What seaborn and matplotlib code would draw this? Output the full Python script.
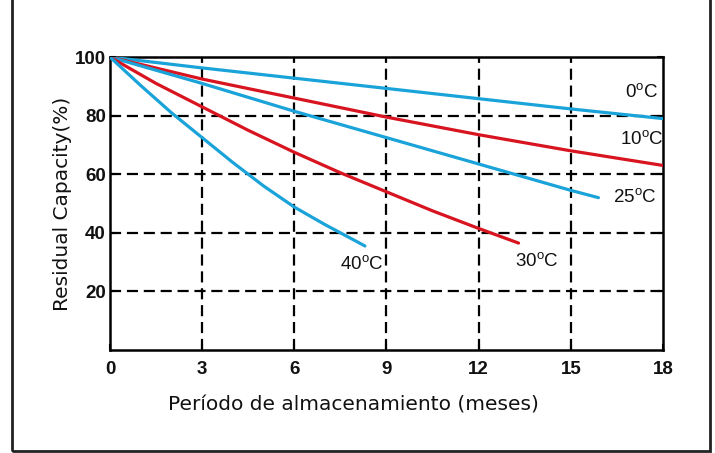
import numpy as np
import pandas as pd
import matplotlib
matplotlib.use('Agg')
import matplotlib.pyplot as plt
import seaborn as sns
from matplotlib.patches import Rectangle

# %%
# Data (months, residual capacity %)
months_0c = [0, 3, 6, 9, 12, 15, 18]
cap_0c = [100, 96.3, 92.8, 89.3, 85.8, 82.3, 79]

months_10c = [0, 3, 6, 9, 12, 15, 18]
cap_10c = [100, 92.5, 86, 79.5, 73.5, 68, 63]

months_25c = [0, 3, 6, 9, 12, 15, 15.9]
cap_25c = [100, 91, 81.5, 72.5, 63.5, 54.5, 52]

months_30c = [0, 1.5, 3, 4.5, 6, 7.5, 9, 10.5, 12, 13.3]
cap_30c = [100, 91, 83, 75, 67.5, 60.5, 54, 47.5, 41.5, 36.5]

months_40c = [0, 1, 2, 3, 4, 5, 6, 7, 8, 8.3]
cap_40c = [100, 90.3, 81, 72.5, 64, 56, 48.8, 42.8, 37.2, 35.5]

labels = ['0', '10', '25', '30', '40']
label_x = [17.3, 17.3, 17.1, 13.9, 8.2]
label_y = [87.7, 71.7, 52, 30, 29]

xticks = [0, 3, 6, 9, 12, 15, 18]
yticks = [20, 40, 60, 80, 100]

# %%
blue = '#1aa3d9'
red = '#d7141f'
series = [
    ('0', months_0c, cap_0c, blue),
    ('10', months_10c, cap_10c, red),
    ('25', months_25c, cap_25c, blue),
    ('30', months_30c, cap_30c, red),
    ('40', months_40c, cap_40c, blue),
]

sns.set_style('white')
fig = plt.figure(figsize=(7.15, 4.53), dpi=100)
ax = fig.add_axes([0.1538, 0.2274, 0.7734, 0.6466])

for name, xs, ys, color in series:
    df = pd.DataFrame({'mes': xs, 'cap': ys})
    sns.lineplot(data=df, x='mes', y='cap', color=color, linewidth=2.3, ax=ax,
                 sort=False, zorder=3)

for lab, lx, ly in zip(labels, label_x, label_y):
    ax.text(lx, ly, lab + r'$^\mathregular{o}$C', fontsize=13.5, ha='center',
            va='center', family='Liberation Sans', color='#111111', zorder=4)

ax.set_xlim(0, 18)
ax.set_ylim(0, 100)
ax.set_xticks(xticks)
ax.set_yticks(yticks)
ax.set_xticklabels([str(t) for t in xticks], fontsize=13.5, fontweight='bold',
                   family='Liberation Sans', color='#111111')
ax.set_yticklabels([str(t) for t in yticks], fontsize=13.5, fontweight='bold',
                   family='Liberation Sans', color='#111111')

dash = (0, (5, 2.6))
for v in xticks[1:-1]:
    ax.axvline(v, color='black', linestyle=dash, linewidth=1.6, zorder=1)
for h in yticks[:-1]:
    ax.axhline(h, color='black', linestyle=dash, linewidth=1.6, zorder=1)

for s in ax.spines.values():
    s.set_color('black')
    s.set_linewidth(1.8)
ax.tick_params(direction='in', length=4, width=1.5, color='black',
               right=True, top=False, left=True, bottom=True)
ax.tick_params(axis='x', pad=8)
ax.tick_params(axis='y', pad=3)

ax.set_xlabel('Período de almacenamiento (meses)', fontsize=14.5,
              family='DejaVu Sans', color='#111111')
ax.xaxis.set_label_coords(0.441, -0.155)
ax.set_ylabel('Residual Capacity(%)', fontsize=14.5, family='DejaVu Sans',
              labelpad=2, color='#111111')

# outer frame
fig.patches.append(Rectangle((12 / 715, 2 / 453), 698 / 715, 1.2, transform=fig.transFigure,
                             fill=False, edgecolor='#222222', linewidth=2))

fig.savefig('out.png', dpi=100)
